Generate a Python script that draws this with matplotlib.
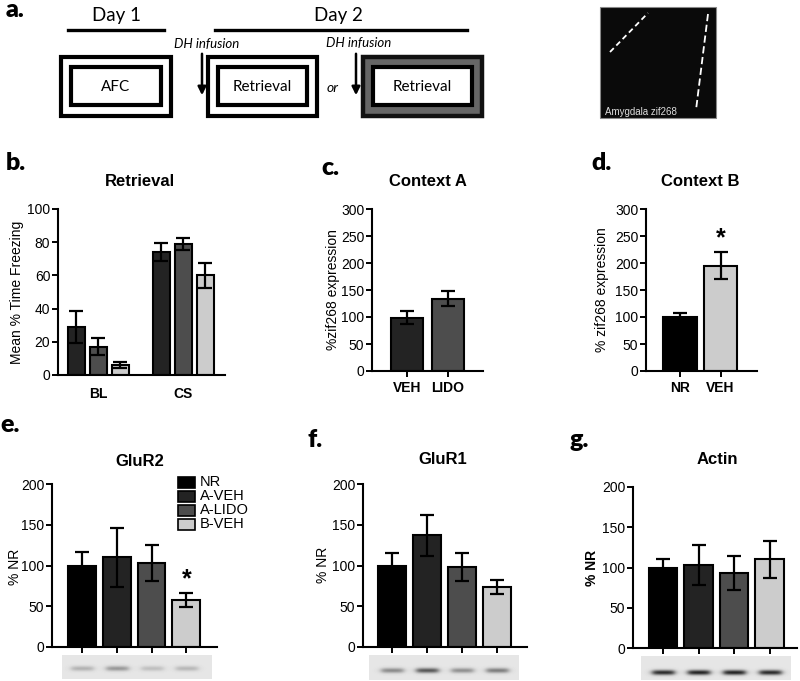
import numpy as np
import matplotlib
matplotlib.use("Agg")
import matplotlib.pyplot as plt
from matplotlib.patches import Rectangle, FancyArrowPatch

plt.rcParams['font.family'] = ['Liberation Sans', 'DejaVu Sans']

# ---------------- data ----------------
ret_groups = ['BL', 'CS']
ret_aveh = [29, 74]
ret_aveh_err = [9.5, 5.5]
ret_alido = [17, 79]
ret_alido_err = [5, 3.5]
ret_bveh = [6, 60]
ret_bveh_err = [2, 7.5]

ctxA_labels = ['VEH', 'LIDO']
ctxA_vals = [99, 134]
ctxA_err = [12, 14.5]

ctxB_labels = ['NR', 'VEH']
ctxB_vals = [100, 195]
ctxB_err = [7.5, 24.5]

groups = ['NR', 'A-VEH', 'A-LIDO', 'B-VEH']
glur2_vals = [100, 110, 103, 58]
glur2_err = [16, 36, 22, 8.5]
glur1_vals = [100, 137, 98, 74]
glur1_err = [15, 25.5, 17, 8.5]
actin_vals = [99, 103, 93, 110]
actin_err = [12, 24.5, 21.5, 23]

# blot band darkness per lane
blot_glur2 = [0.20, 0.30, 0.15, 0.18]
blot_glur1 = [0.35, 0.55, 0.33, 0.40]
blot_actin = [0.72, 0.75, 0.75, 0.72]

C_NR, C_AVEH, C_ALIDO, C_BVEH = '#000000', '#232323', '#4d4d4d', '#cccccc'
grp_colors = [C_NR, C_AVEH, C_ALIDO, C_BVEH]

W, H = 800, 681
fig = plt.figure(figsize=(W / 100, H / 100), dpi=100)

def add_ax(x0, yt, x1, yb):
    return fig.add_axes([x0 / W, 1 - yb / H, (x1 - x0) / W, (yb - yt) / H])

def style(ax, ylim, yticks, xlim):
    ax.set_ylim(*ylim)
    ax.set_xlim(*xlim)
    ax.set_yticks(yticks)
    for s in ['top', 'right']:
        ax.spines[s].set_visible(False)
    for s in ['left', 'bottom']:
        ax.spines[s].set_linewidth(1.5)
    ax.tick_params(axis='both', width=1.4, length=4, labelsize=10, pad=1.5)
    ax.patch.set_visible(False)

ekw = dict(capsize=5, elinewidth=1.6, capthick=1.6, ecolor='black')

# ---------------- panel b ----------------
axb = add_ax(58, 209, 225, 375)
centers = np.array([0.0, 3.85])
for k, (vals, errs, col) in enumerate([(ret_aveh, ret_aveh_err, C_AVEH),
                                       (ret_alido, ret_alido_err, C_ALIDO),
                                       (ret_bveh, ret_bveh_err, C_BVEH)]):
    axb.bar(centers + (k - 1), vals, width=0.78, color=col, edgecolor='black',
            linewidth=1.5, yerr=errs, error_kw=ekw, zorder=2)
style(axb, (0, 100), [0, 20, 40, 60, 80, 100], (-1.84, 5.75))
axb.set_xticks(centers)
axb.set_xticklabels(ret_groups, fontweight='bold', fontsize=10)
axb.tick_params(axis='x', length=0, pad=9)

# ---------------- panel c ----------------
axc = add_ax(372, 209, 483, 371)
xc = np.arange(len(ctxA_vals))
axc.bar(xc, ctxA_vals, width=0.78, color=[C_AVEH, C_ALIDO], edgecolor='black',
        linewidth=1.5, yerr=ctxA_err, error_kw=ekw)
style(axc, (0, 300), [0, 50, 100, 150, 200, 250, 300], (-0.85, 1.85))
axc.set_xticks(xc)
axc.set_xticklabels(ctxA_labels, fontweight='bold', fontsize=10)
axc.tick_params(axis='x', pad=3)

# ---------------- panel d ----------------
axd = add_ax(646, 209, 757, 371)
xd = np.arange(len(ctxB_vals))
axd.bar(xd, ctxB_vals, width=0.82, color=[C_NR, C_BVEH], edgecolor='black',
        linewidth=1.5, yerr=ctxB_err, error_kw=ekw)
style(axd, (0, 300), [0, 50, 100, 150, 200, 250, 300], (-0.84, 1.9))
axd.set_xticks(xd)
axd.set_xticklabels(ctxB_labels, fontweight='bold', fontsize=10)
axd.tick_params(axis='x', pad=3)
axd.text(xd[1], ctxB_vals[1] + ctxB_err[1] + 4, '*', ha='center', va='bottom',
         fontsize=18, fontweight='bold')

# ---------------- panels e, f, g ----------------
def west(rect, vals, errs, xlim, star=False):
    ax = add_ax(*rect)
    x = np.arange(len(vals))
    ax.bar(x, vals, width=0.8, color=grp_colors, edgecolor='black', linewidth=1.5,
           yerr=errs, error_kw=ekw)
    style(ax, (0, 200), [0, 50, 100, 150, 200], xlim)
    ax.set_xticks(x)
    ax.set_xticklabels([])
    if star:
        ax.text(x[3], vals[3] + errs[3] + 2, '*', ha='center', va='bottom',
                fontsize=18, fontweight='bold')
    return ax

axe = west((52, 484, 217, 647), glur2_vals, glur2_err, (-0.86, 3.88), star=True)
axf = west((363, 484, 527, 647), glur1_vals, glur1_err, (-0.83, 3.86))
axg = west((633, 487, 797, 648), actin_vals, actin_err, (-0.85, 3.77))

# ---------------- overlay for annotations / diagram ----------------
ov = fig.add_axes([0, 0, 1, 1])
ov.set_xlim(0, W)
ov.set_ylim(H, 0)
ov.axis('off')
ov.patch.set_visible(False)

LET = dict(fontsize=18, fontweight='heavy', family=['Lato', 'DejaVu Sans'], va='top', ha='left')
ov.text(6, -1, 'a.', **LET)
ov.text(6, 152, 'b.', **LET)
ov.text(321, 157, 'c.', **LET)
ov.text(591, 152, 'd.', **LET)
ov.text(0, 414, 'e.', **LET)
ov.text(307, 429, 'f.', **LET)
ov.text(569, 429, 'g.', **LET)

TT = dict(fontsize=12, fontweight='bold', ha='center', va='center')
ov.text(140, 182, 'Retrieval', **TT)
ov.text(428, 182, 'Context A', **TT)
ov.text(700, 182, 'Context B', **TT)
ov.text(140, 462, 'GluR2', **TT)
ov.text(443, 459, 'GluR1', **TT)
ov.text(717, 460, 'Actin', **TT)

YL = dict(fontsize=10, rotation=90, ha='center', va='center')
ov.text(17, 292, 'Mean % Time Freezing', **YL)
ov.text(333, 290, '%zif268 expression', **YL)
ov.text(602, 290, '% zif268 expression', **YL)
ov.text(15, 567, '% NR', **YL)
ov.text(323, 565, '% NR', **YL)
ov.text(592, 568, '% NR', fontweight='bold', **YL)

# legend of panel e
for i, (g, c) in enumerate(zip(groups, grp_colors)):
    yc = 482 + i * 14
    ov.add_patch(Rectangle((178, yc - 5.5), 17, 11, facecolor=c, edgecolor='black', lw=1.2))
    ov.text(200, yc + 0.5, g, fontsize=10.5, ha='left', va='center')

# western blot strips
def blot(x0, x1, y0, y1, centers_px, dark, band_y):
    nx, ny = int(x1 - x0), int(y1 - y0)
    xs = np.arange(nx)[None, :] + x0
    ys = np.arange(ny)[:, None] + y0
    img = np.full((ny, nx), 0.9)
    for cx, d in zip(centers_px, dark):
        px = 1.0 / (1.0 + np.exp((np.abs(xs - cx) - 11) / 1.8))
        py = np.exp(-0.5 * ((ys - band_y) / 1.8) ** 2)
        img = img - d * px * py
    ov.imshow(img, cmap='gray', vmin=0, vmax=1, extent=(x0, x1, y1, y0),
              aspect='auto', interpolation='bilinear', zorder=1)

blot(62, 212, 655, 679, [82, 117, 152, 186.5], blot_glur2, 668)
blot(369, 519, 655, 680, [392, 427, 462, 497], blot_glur1, 670)
blot(641, 791, 656, 680, [663, 698.5, 734, 770], blot_actin, 672)

# ---------------- panel a diagram ----------------
CAL = ['Lato', 'DejaVu Sans']
ov.text(116, 15, 'Day 1', fontsize=13.5, family=CAL, ha='center', va='center')
ov.text(338, 15, 'Day 2', fontsize=13.5, family=CAL, ha='center', va='center')
ov.plot([68, 164], [29.5, 29.5], color='black', lw=2.4)
ov.plot([215, 467], [29.5, 29.5], color='black', lw=2.4)

def box(x0, x1, y0, y1, fc='white', ec='black', lw=3.0):
    ov.add_patch(Rectangle((x0, y0), x1 - x0, y1 - y0, facecolor=fc, edgecolor=ec, lw=lw))

box(61, 171, 57, 116)
box(71, 161, 67, 105)
ov.text(116, 87, 'AFC', fontsize=11, family=CAL, ha='center', va='center')
box(208, 317, 57, 116)
box(218, 307, 67, 105)
ov.text(262, 87, 'Retrieval', fontsize=11, family=CAL, ha='center', va='center')
box(363, 482, 57, 116, fc='#666666', ec='#111111', lw=3.2)
box(373, 472, 67, 105)
ov.text(422, 87, 'Retrieval', fontsize=11, family=CAL, ha='center', va='center')
ov.text(333, 88, 'or', fontsize=10, family=CAL, style='italic', ha='center', va='center')
ov.text(207, 44, 'DH infusion', fontsize=9.5, family=CAL, style='italic', ha='center', va='center')
ov.text(359, 43, 'DH infusion', fontsize=9.5, family=CAL, style='italic', ha='center', va='center')
for xa in (202, 356):
    ov.add_patch(FancyArrowPatch((xa, 51), (xa, 98), arrowstyle='-|>', mutation_scale=12,
                                 color='black', lw=1.8))

# micrograph placeholder
ov.add_patch(Rectangle((600, 7), 116, 111, facecolor='#0a0a0a', edgecolor='#888888', lw=0.8))
ov.plot([610, 648], [52, 13], color='white', lw=1.3, ls=(0, (3, 2)))
ov.plot([708, 696], [14, 110], color='white', lw=1.3, ls=(0, (4, 2)))
ov.text(605, 112, 'Amygdala zif268', fontsize=7, color='#dddddd', ha='left', va='center')

ov.set_xlim(0, W)
ov.set_ylim(H, 0)

fig.savefig('out.png', dpi=100)
